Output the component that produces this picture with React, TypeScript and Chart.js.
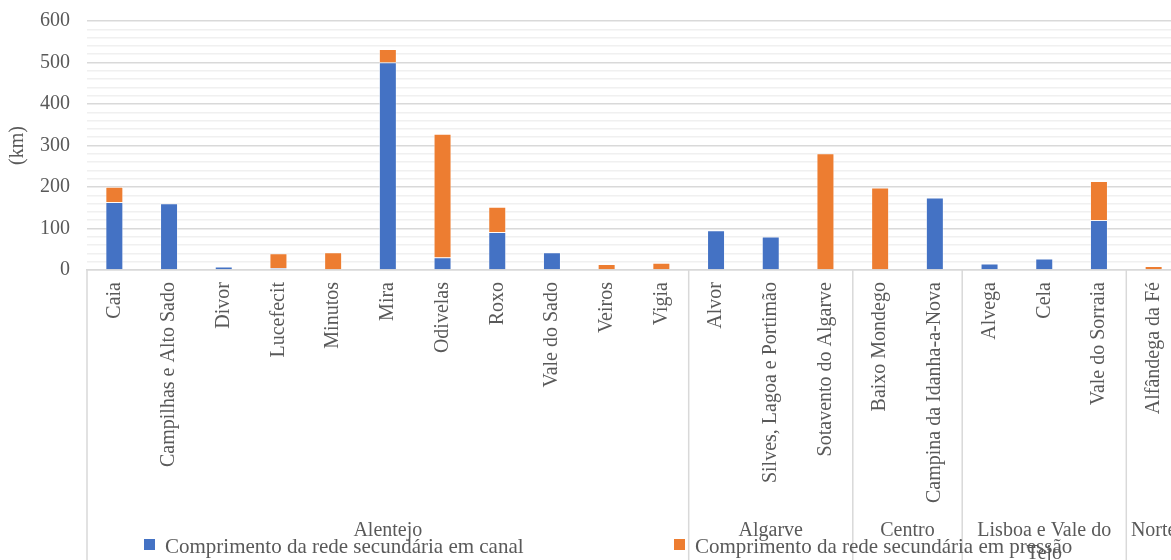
import React, { useEffect, useRef } from "react";
import { Chart, registerables } from "chart.js";

Chart.register(...registerables);

const categories = [
  "Caia",
  "Campilhas e Alto Sado",
  "Divor",
  "Lucefecit",
  "Minutos",
  "Mira",
  "Odivelas",
  "Roxo",
  "Vale do Sado",
  "Veiros",
  "Vigia",
  "Alvor",
  "Silves, Lagoa e Portimão",
  "Sotavento do Algarve",
  "Baixo Mondego",
  "Campina da Idanha-a-Nova",
  "Alvega",
  "Cela",
  "Vale do Sorraia",
  "Alfândega da Fé",
];

const canal = [163, 160, 8, 4, 0, 500, 30, 91, 42, 0, 0, 95, 80, 0, 0, 174, 15, 27, 120, 0];
const pressao = [37, 0, 0, 36, 42, 32, 298, 61, 0, 14, 17, 0, 0, 281, 198, 0, 0, 0, 94, 9];

const regionNames: string[][] = [
  ["Alentejo"],
  ["Algarve"],
  ["Centro"],
  ["Lisboa e Vale do", "Tejo"],
  ["Norte"],
];
const regionCounts = [11, 3, 2, 3, 1];

const seriesLabels = [
  "Comprimento da rede secundária em canal",
  "Comprimento da rede secundária em pressão",
];
const seriesColors = ["#4472C4", "#ED7D31"];

const yTitle = "(km)";

const FONT = '"Liberation Serif", "Times New Roman", serif';
const TEXT = "#595959";
const W = 1200;
const H = 560;

export default function App() {
  const ref = useRef<HTMLCanvasElement | null>(null);

  useEffect(() => {
    document.body.style.margin = "0";
    const canvas = ref.current;
    if (!canvas) return;

    const groupPlugin = {
      id: "groups",
      afterDraw(chart: any) {
        const ctx = chart.ctx as CanvasRenderingContext2D;
        const area = chart.chartArea;
        const n = categories.length;
        const step = (area.right - area.left) / n;
        ctx.save();
        // separators
        ctx.strokeStyle = "#d9d9d9";
        ctx.lineWidth = 1.5;
        let idx = 0;
        const bounds: number[] = [area.left];
        regionCounts.forEach((c) => {
          idx += c;
          bounds.push(area.left + idx * step);
        });
        bounds.forEach((bx) => {
          ctx.beginPath();
          ctx.moveTo(bx, area.bottom);
          ctx.lineTo(bx, H);
          ctx.stroke();
        });
        // region labels
        ctx.fillStyle = TEXT;
        ctx.font = `20px ${FONT}`;
        ctx.textAlign = "center";
        ctx.textBaseline = "alphabetic";
        regionNames.forEach((lines, i) => {
          const cx = (bounds[i] + bounds[i + 1]) / 2;
          lines.forEach((ln, j) => {
            ctx.fillText(ln, cx, 536 + j * 23);
          });
        });
        // legend
        ctx.font = `21px ${FONT}`;
        const legendX = [144, 674];
        seriesLabels.forEach((lab, i) => {
          ctx.fillStyle = seriesColors[i];
          ctx.fillRect(legendX[i], 539, 11, 11);
          ctx.fillStyle = TEXT;
          ctx.textAlign = "left";
          ctx.fillText(lab, legendX[i] + 21, 553);
        });
        ctx.restore();
      },
    };

    const chart = new Chart(canvas, {
      type: "bar",
      data: {
        labels: categories,
        datasets: [
          {
            label: seriesLabels[0],
            data: canal,
            backgroundColor: seriesColors[0],
            borderColor: "rgba(255,255,255,0.7)",
            borderWidth: 0.75,
          },
          {
            label: seriesLabels[1],
            data: pressao,
            backgroundColor: seriesColors[1],
            borderColor: "rgba(255,255,255,0.7)",
            borderWidth: 0.75,
          },
        ],
      },
      options: {
        responsive: false,
        animation: false,
        devicePixelRatio: 1,
        layout: { padding: { top: 21, right: W - 1181, bottom: 0, left: 0 } },
        datasets: {
          bar: { categoryPercentage: 1, barPercentage: 0.32 },
        },
        plugins: {
          legend: { display: false },
          tooltip: { enabled: false },
        },
        scales: {
          x: {
            stacked: true,
            grid: { display: false, drawTicks: false },
            border: { display: true, color: "#d9d9d9", width: 1.5 },
            ticks: {
              color: TEXT,
              font: { family: FONT, size: 20 },
              minRotation: 90,
              maxRotation: 90,
              autoSkip: false,
              padding: 12,
            },
            afterFit(scale: any) {
              scale.height = H - 270;
              scale.paddingTop = 0;
              scale.paddingBottom = 0;
            },
          },
          y: {
            stacked: true,
            min: 0,
            max: 600,
            grid: {
              drawTicks: false,
              lineWidth: 1.5,
              color: (c: any) =>
                c.tick && c.tick.value % 100 === 0 ? "#d9d9d9" : "#f0f0f0",
            },
            border: { display: false },
            ticks: {
              stepSize: 20,
              autoSkip: false,
              color: TEXT,
              font: { family: FONT, size: 20 },
              padding: 17,
              callback: (v: any) => (Number(v) % 100 === 0 ? String(v) : ""),
            },
            title: {
              display: true,
              text: yTitle,
              color: TEXT,
              font: { family: FONT, size: 20 },
              padding: { top: 6, bottom: 0 },
            },
            afterFit(scale: any) {
              scale.width = 87;
              scale.paddingTop = 0;
              scale.paddingBottom = 0;
            },
          },
        },
      },
      plugins: [groupPlugin],
    });

    return () => chart.destroy();
  }, []);

  return (
    <div style={{ width: 1171, height: 560, overflow: "hidden", position: "relative", background: "#fff" }}>
      <canvas ref={ref} width={W} height={H} style={{ width: W, height: H, display: "block" }} />
    </div>
  );
}
